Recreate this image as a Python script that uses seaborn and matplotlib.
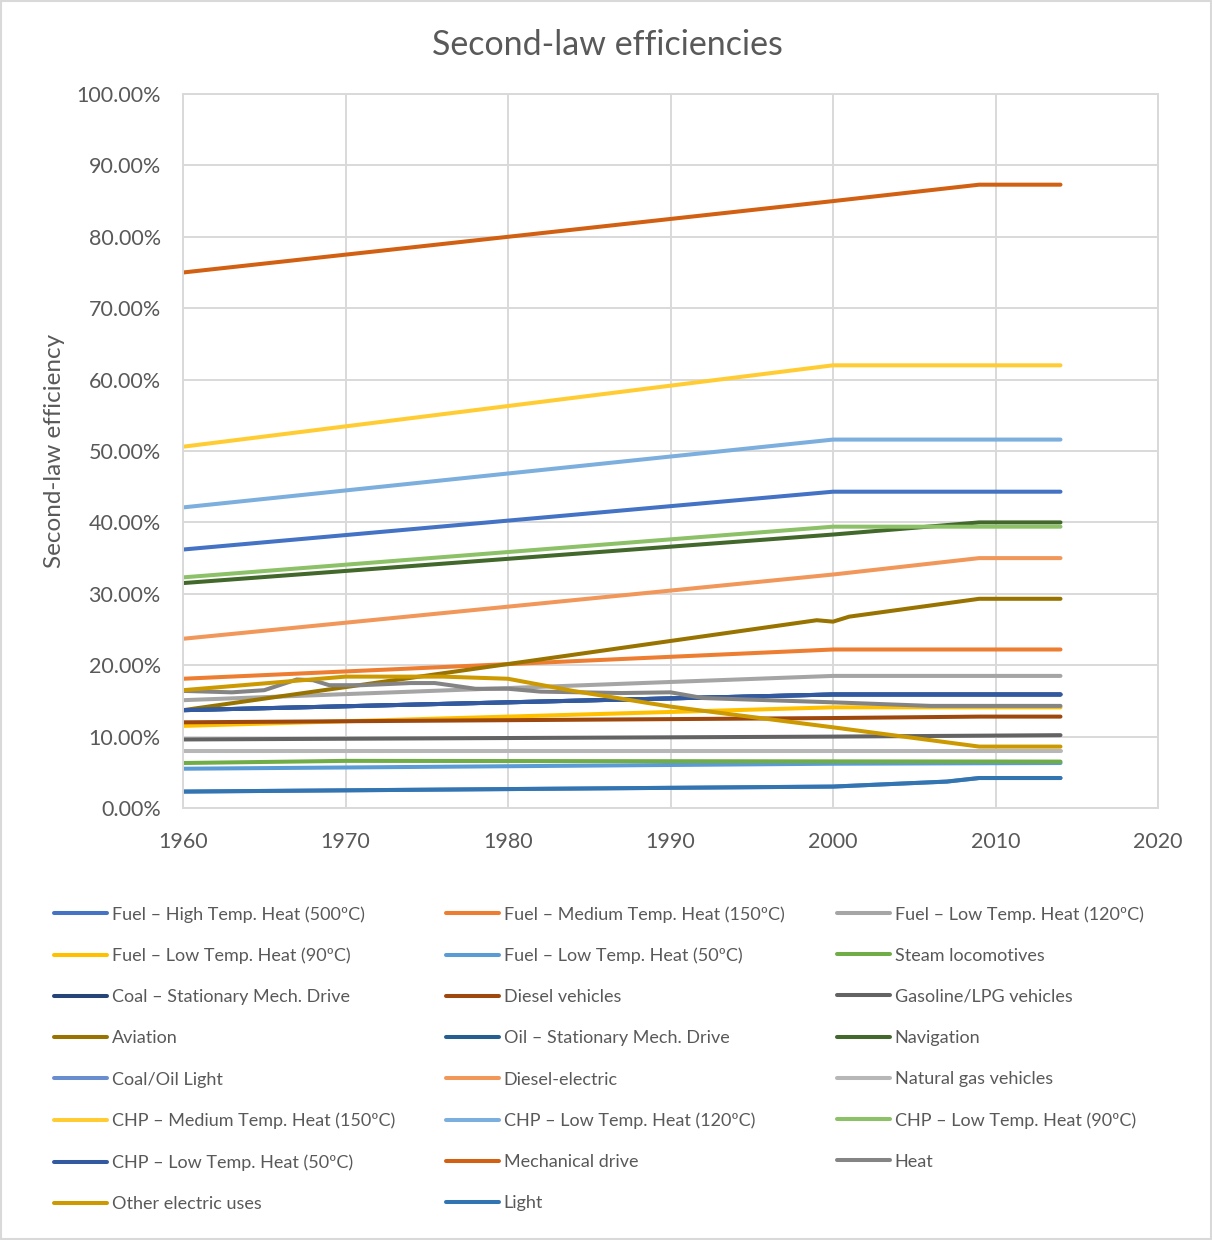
import matplotlib
matplotlib.use("Agg")
import numpy as np
import matplotlib.pyplot as plt
from matplotlib.patches import Rectangle
from matplotlib.ticker import PercentFormatter, MultipleLocator
import seaborn as sns

# --- data (percent), keypoints per series ---
yr_3 = [1960, 2000, 2014]
yr_4 = [1960, 2000, 2009, 2014]

fuel_high_500 = [36.2, 44.3, 44.3]
fuel_med_150 = [18.1, 22.2, 22.2]
fuel_low_120 = [15.1, 18.5, 18.5]
fuel_low_90 = [11.5, 14.1, 14.1]
fuel_low_50 = [5.5, 6.2, 6.3]
yr_steam = [1960, 1970, 2014]
steam_loco = [6.3, 6.6, 6.5]
coal_stat = [13.7, 15.9, 15.9]
diesel_veh = [12.0, 12.6, 12.8, 12.8]
gasoline_veh = [9.6, 10.0, 10.2]
yr_aviation = [1960, 1999, 2000, 2001, 2009, 2014]
aviation = [13.7, 26.3, 26.1, 26.8, 29.3, 29.3]
oil_stat = [13.7, 15.9, 15.9]
navigation = [31.5, 38.3, 40.0, 40.0]
yr_light = [1960, 2000, 2007, 2009, 2014]
coal_oil_light = [2.3, 3.0, 3.7, 4.2, 4.2]
diesel_elec = [23.7, 32.7, 35.0, 35.0]
yr_ngv = [1960, 2014]
natgas_veh = [8.0, 8.0]
chp_med_150 = [50.6, 62.0, 62.0]
chp_low_120 = [42.1, 51.6, 51.6]
chp_low_90 = [32.3, 39.4, 39.4]
chp_low_50 = [13.7, 15.9, 15.9]
mech_drive = [75.0, 85.0, 87.3, 87.3]
yr_heat = [1960, 1963, 1965, 1967, 1968, 1969, 1971, 1974, 1975.5, 1978,
           1980, 1982, 1987, 1990, 1992, 2000, 2006, 2014]
heat = [16.4, 16.2, 16.5, 18.0, 17.9, 17.2, 17.2, 17.5, 17.5, 16.7,
        16.7, 16.3, 16.1, 16.2, 15.4, 14.8, 14.3, 14.3]
yr_other = [1960, 1970, 1976, 1980, 1984, 1990, 2000, 2009, 2014]
other_elec = [16.5, 18.4, 18.4, 18.1, 16.4, 14.2, 11.3, 8.6, 8.6]
light = [2.3, 3.0, 3.7, 4.2, 4.2]

series = [
    ("Fuel – High Temp. Heat (500ºC)", "#4472C4", yr_3, fuel_high_500),
    ("Fuel – Medium Temp. Heat (150ºC)", "#ED7D31", yr_3, fuel_med_150),
    ("Fuel – Low Temp. Heat (120ºC)", "#A5A5A5", yr_3, fuel_low_120),
    ("Fuel – Low Temp. Heat (90ºC)", "#FFC000", yr_3, fuel_low_90),
    ("Fuel – Low Temp. Heat (50ºC)", "#5B9BD5", yr_3, fuel_low_50),
    ("Steam locomotives", "#70AD47", yr_steam, steam_loco),
    ("Coal – Stationary Mech. Drive", "#264478", yr_3, coal_stat),
    ("Diesel vehicles", "#9E480E", yr_4, diesel_veh),
    ("Gasoline/LPG vehicles", "#636363", yr_3, gasoline_veh),
    ("Aviation", "#997300", yr_aviation, aviation),
    ("Oil – Stationary Mech. Drive", "#255E91", yr_3, oil_stat),
    ("Navigation", "#43682B", yr_4, navigation),
    ("Coal/Oil Light", "#698ED0", yr_light, coal_oil_light),
    ("Diesel-electric", "#F1975A", yr_4, diesel_elec),
    ("Natural gas vehicles", "#B7B7B7", yr_ngv, natgas_veh),
    ("CHP – Medium Temp. Heat (150ºC)", "#FFCD33", yr_3, chp_med_150),
    ("CHP – Low Temp. Heat (120ºC)", "#7CAFDD", yr_3, chp_low_120),
    ("CHP – Low Temp. Heat (90ºC)", "#8CC168", yr_3, chp_low_90),
    ("CHP – Low Temp. Heat (50ºC)", "#335AA1", yr_3, chp_low_50),
    ("Mechanical drive", "#D26012", yr_4, mech_drive),
    ("Heat", "#848484", yr_heat, heat),
    ("Other electric uses", "#CC9A00", yr_other, other_elec),
    ("Light", "#3275B1", yr_light, light),
]

sns.set_style("white")
plt.rcParams["font.family"] = ["Lato", "DejaVu Sans"]
txt = "#595959"
grid_c = "#D9D9D9"

fig = plt.figure(figsize=(12.12, 12.40), dpi=100)
ax = fig.add_axes([183 / 1212, 1 - 808 / 1240, 975 / 1212, 714 / 1240])

for name, col, yrs, vals in series:
    sns.lineplot(x=yrs, y=np.array(vals) / 100, color=col, lw=2.9,
                 label=name, legend=False, ax=ax, solid_capstyle="round")

ax.set_xlim(1960, 2020)
ax.set_ylim(0, 1)
ax.xaxis.set_major_locator(MultipleLocator(10))
ax.yaxis.set_major_locator(MultipleLocator(0.1))
ax.yaxis.set_major_formatter(PercentFormatter(1.0, decimals=2))
ax.grid(True, color=grid_c, lw=1.4)
for sp in ax.spines.values():
    sp.set_color(grid_c)
    sp.set_linewidth(1.4)
ax.tick_params(axis="both", length=0, labelsize=15.5, labelcolor=txt)
ax.tick_params(axis="y", pad=16)
ax.tick_params(axis="x", pad=17)
ax.set_xlabel("")
ax.set_ylabel("Second-law efficiency", fontsize=17.5, color=txt)
ax.yaxis.set_label_coords(-0.121, 0.5)

fig.text(607 / 1212, 1 - 45 / 1240, "Second-law efficiencies", fontsize=24.5,
         color=txt, ha="center", va="center")

# legend: Excel fills rows, so split into three columns by hand
handles, labels = ax.get_legend_handles_labels()
for c, xl in enumerate([54, 446, 837]):
    idx = list(range(c, len(handles), 3))
    fig.legend([handles[i] for i in idx], [labels[i] for i in idx],
               loc="upper left", bbox_to_anchor=(xl / 1212, 1 - 906 / 1240),
               frameon=False, borderpad=0, borderaxespad=0,
               handlelength=2.95, handletextpad=0.25, labelspacing=1.39,
               fontsize=13, labelcolor=txt)

fig.patches.append(Rectangle((0.0008, 0.0008), 0.9984, 0.9984, fill=False,
                             edgecolor=grid_c, lw=1.5, transform=fig.transFigure))

fig.savefig("out.png", dpi=100)
